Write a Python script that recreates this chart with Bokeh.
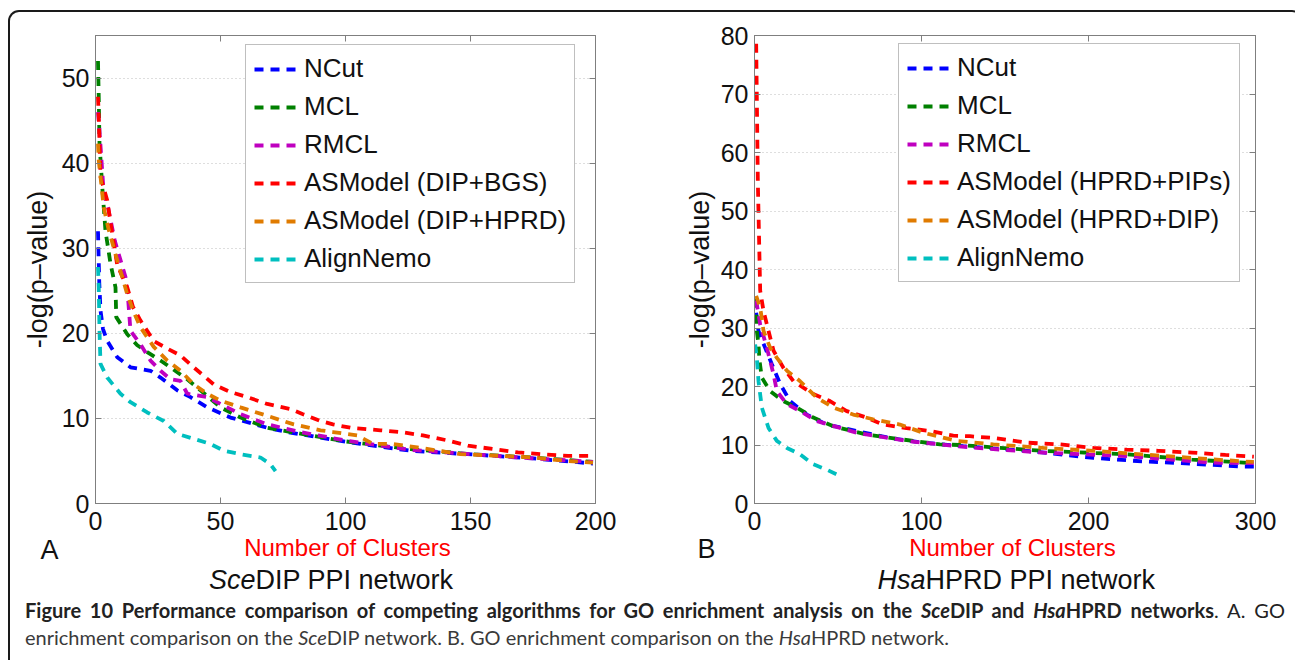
from bokeh.plotting import figure
from bokeh.models import Legend, LegendItem, LinearAxis, Div, FixedTicker, Range1d
from bokeh.core.properties import value
from bokeh.layouts import column, row
from bokeh.embed import file_html
from bokeh.resources import INLINE

# ---------------- Panel A: SceDIP PPI network ----------------
a_ncut_x = [1, 1.5, 2, 3, 4.7, 8.7, 14, 22, 26, 32.7, 38, 44.7, 54, 59, 68.7, 76.7, 88.7, 106, 126, 148.7, 175, 199]
a_ncut_y = [32, 26, 22.7, 20.5, 19.1, 17.2, 16, 15.6, 14.8, 13.3, 12.5, 11.3, 10.1, 9.7, 8.9, 8.4, 7.8, 7.0, 6.2, 5.8, 5.3, 4.7]
a_mcl_x = [1, 1.3, 1.6, 2.7, 4, 6, 8, 8.3, 12.7, 16.7, 20.7, 27, 36.7, 42, 50, 58, 68.7, 82, 100, 126, 150, 175, 199]
a_mcl_y = [52, 47.7, 42.3, 37.2, 32, 28.2, 25.4, 21.9, 19.9, 18.6, 17.8, 16.6, 14.6, 13.3, 11.3, 10.1, 8.9, 8.2, 7.3, 6.4, 5.8, 5.4, 4.9]
a_rmcl_x = [1, 1.5, 3.3, 5, 7.7, 12, 13, 14, 18, 22, 26, 30, 34, 36.7, 44.7, 50, 58, 68.7, 82, 100, 126, 150, 175, 199]
a_rmcl_y = [46, 44.2, 36.4, 34.8, 30.9, 26.6, 24.2, 20.3, 18.7, 16.8, 15.6, 14.6, 14.4, 12.9, 12.5, 11.7, 10.5, 9.3, 8.4, 7.4, 6.3, 5.8, 5.3, 4.9]
a_bgs_x = [1, 1.3, 2, 4.7, 6.7, 8.7, 12.7, 15, 18, 23.3, 28.7, 34, 39.3, 47.3, 54, 60.7, 68.7, 78, 83, 90, 95, 102, 114, 122, 131, 141, 149, 159, 169, 178, 189, 199]
a_bgs_y = [47.8, 45.4, 38.4, 35.6, 31.7, 28.0, 25.4, 23.1, 21.5, 19.1, 18.2, 17.4, 16.0, 14.0, 13.1, 12.5, 11.7, 11.1, 10.5, 9.7, 9.3, 8.9, 8.6, 8.4, 8.0, 7.4, 6.8, 6.4, 6.0, 5.8, 5.6, 5.6]
a_hprd_x = [1, 1.3, 2, 3.3, 5, 8, 10.7, 12.7, 15, 18, 23.3, 28.7, 34, 39.3, 44.7, 50, 58, 68.7, 79.3, 90, 95, 104.7, 111, 119, 128.7, 146, 162, 175, 188.7, 199]
a_hprd_y = [42.3, 40.3, 38.4, 34.8, 32.5, 29.3, 26.6, 24.6, 22.7, 20.7, 18.4, 16.8, 15.6, 14.0, 12.9, 12.1, 11.3, 10.3, 9.3, 8.6, 8.4, 8.0, 7.0, 7.0, 6.6, 5.8, 5.6, 5.4, 5.0, 4.8]
a_nemo_x = [1, 1.3, 1.6, 2, 4.7, 10, 14, 20.7, 27.3, 32.7, 39.3, 46, 51.3, 58, 66, 70, 72]
a_nemo_y = [27.8, 25.4, 20.3, 16.4, 14.8, 12.9, 11.9, 10.7, 9.7, 8.2, 7.6, 7.0, 6.2, 5.8, 5.4, 4.6, 3.8]

# ---------------- Panel B: HsaHPRD PPI network ----------------
b_ncut_x = [1, 2.4, 6.4, 10.4, 15.4, 21.3, 31.3, 43.2, 61.2, 81, 101, 125, 163, 183, 203, 232, 262, 292, 299]
b_ncut_y = [32.6, 29.5, 26.6, 23.8, 20.4, 17.5, 15.2, 13.5, 12.4, 11.2, 10.4, 9.8, 9.0, 8.4, 7.8, 7.2, 6.8, 6.3, 6.3]
b_mcl_x = [1, 1.4, 2.4, 3, 4.4, 9.4, 17.3, 25.3, 35.2, 47.2, 67, 87, 111, 123, 173, 223, 262, 299]
b_mcl_y = [35.0, 29.5, 27.2, 24.4, 21.5, 19.2, 17.5, 16.4, 14.7, 13.2, 11.8, 11.0, 10.1, 10.0, 9.0, 8.4, 7.5, 6.9]
b_rmcl_x = [1, 3.4, 7.4, 11.4, 13.4, 19.4, 27.3, 37.3, 61, 91, 121, 133, 173, 223, 272, 299]
b_rmcl_y = [34.7, 30.6, 26.6, 22.1, 19.2, 17.0, 15.8, 14.1, 12.1, 10.7, 9.8, 9.5, 8.7, 8.1, 7.0, 6.9]
b_pips_x = [1, 2, 3.4, 5.4, 8.4, 11.4, 17.3, 23.3, 35.2, 45.2, 55.2, 67, 77, 91, 105, 119, 129, 143, 163, 183, 203, 223, 242, 262, 282, 299]
b_pips_y = [78.6, 55, 36.4, 32.9, 29.5, 26.1, 23.2, 20.9, 18.7, 17.5, 15.8, 14.7, 13.5, 12.9, 12.4, 11.6, 11.5, 11.2, 10.4, 10.1, 9.5, 9.2, 9.0, 8.7, 8.3, 8.0]
b_dip_x = [1, 3.4, 5.4, 9.4, 13.4, 19.4, 27.3, 37.3, 47.2, 59.1, 71, 87, 101, 121, 143, 173, 203, 232, 262, 292, 299]
b_dip_y = [35.5, 33.5, 29.5, 26.6, 24.9, 22.7, 20.9, 18.1, 16.4, 15.2, 14.4, 13.5, 12.1, 10.7, 10.1, 9.5, 9.0, 8.4, 7.8, 7.2, 7.1]
b_nemo_x = [0.4, 1.4, 2.4, 4.4, 8.4, 13.4, 19.4, 27.3, 35.2, 43.2, 51.2]
b_nemo_y = [27.2, 24.9, 20.9, 16.4, 12.9, 10.7, 9.5, 8.4, 6.7, 5.8, 4.7]

names_a = ["NCut", "MCL", "RMCL", "ASModel (DIP+BGS)", "ASModel (DIP+HPRD)", "AlignNemo"]
names_b = ["NCut", "MCL", "RMCL", "ASModel (HPRD+PIPs)", "ASModel (HPRD+DIP)", "AlignNemo"]
colors = ["#0000ff", "#008000", "#bf00bf", "#ff0000", "#e07b00", "#00bfbf"]

a_xticks = [0, 50, 100, 150, 200]
a_yticks = [0, 10, 20, 30, 40, 50]
b_xticks = [0, 100, 200, 300]
b_yticks = [0, 10, 20, 30, 40, 50, 60, 70, 80]

x_title = "Number of Clusters"
y_title = "-log(p\u2013value)"
net_a = ("Sce", "DIP PPI network")
net_b = ("Hsa", "HPRD PPI network")
caption_1 = ('<b>Figure 10 Performance comparison of competing algorithms for GO enrichment analysis on the '
             '<i>Sce</i>DIP and <i>Hsa</i>HPRD networks</b>. A. GO')
caption_2 = ('enrichment comparison on the <i>Sce</i>DIP network. B. GO enrichment comparison on the '
             '<i>Hsa</i>HPRD network.')

FONT = "Liberation Sans"
GRAY = "#7f7f7f"
INK = "#111111"
FOOT_H = 69


def make_panel(width, bl, br, xmax, ymax, xticks, yticks, xs, ys, names, legend_loc, ylab_standoff):
    p = figure(width=width, height=529, x_range=Range1d(0, xmax), y_range=Range1d(0, ymax),
               output_backend="svg", toolbar_location=None,
               min_border_left=bl, min_border_right=br, min_border_top=23, min_border_bottom=38)
    p.outline_line_color = GRAY
    p.background_fill_color = "white"
    p.border_fill_color = None
    p.xgrid.visible = False
    p.ygrid.grid_line_color = "#bdbdbd"
    p.ygrid.grid_line_dash = "1 3"
    p.ygrid.ticker = FixedTicker(ticks=yticks)

    for ax, ticks in ((p.xaxis[0], xticks), (p.yaxis[0], yticks)):
        ax.ticker = FixedTicker(ticks=ticks)
        ax.major_tick_in = 6
        ax.major_tick_out = 0
        ax.minor_tick_in = 0
        ax.minor_tick_out = 0
        ax.axis_line_color = GRAY
        ax.major_tick_line_color = GRAY
        ax.major_label_text_font = FONT
        ax.major_label_text_font_size = "25px"
        ax.major_label_text_color = INK
        ax.axis_label_text_font = FONT
        ax.axis_label_text_font_style = "normal"
    p.xaxis.major_label_standoff = 8
    p.yaxis.major_label_standoff = 6
    p.yaxis.axis_label = y_title
    p.yaxis.axis_label_text_color = INK
    p.yaxis.axis_label_text_font_size = "27px"
    p.yaxis.axis_label_standoff = ylab_standoff

    top = LinearAxis(ticker=FixedTicker(ticks=xticks), major_label_overrides={t: "" for t in xticks},
                     major_tick_in=6, major_tick_out=0, minor_tick_in=0, minor_tick_out=0,
                     axis_line_color=GRAY, major_tick_line_color=GRAY, major_label_standoff=0)
    right = LinearAxis(ticker=FixedTicker(ticks=yticks), major_label_overrides={t: "" for t in yticks},
                       major_tick_in=6, major_tick_out=0, minor_tick_in=0, minor_tick_out=0,
                       axis_line_color=GRAY, major_tick_line_color=GRAY, major_label_standoff=0)
    p.add_layout(top, "above")
    p.add_layout(right, "right")

    items = []
    for x, y, name, c in zip(xs, ys, names, colors):
        r = p.line(x, y, line_color=c, line_width=3.8, line_dash="9 7")
        items.append(LegendItem(label=name, renderers=[r]))
    leg = Legend(items=items, location=legend_loc, label_text_font=FONT, label_text_font_size="26px",
                 label_text_color=INK, glyph_width=45, glyph_height=30, label_height=30,
                 spacing=7, padding=8, margin=0, label_standoff=5,
                 border_line_color=GRAY, border_line_width=1, background_fill_alpha=1.0)
    p.add_layout(leg)
    return p


def make_footer(width, letter, letter_xy, title_xy, split_x, net):
    # transparent strip under a panel: panel letter, x-axis title and network name
    f = figure(width=width, height=FOOT_H, x_range=Range1d(0, width), y_range=Range1d(0, FOOT_H),
               output_backend="svg", toolbar_location=None,
               min_border_left=0, min_border_right=0, min_border_top=0, min_border_bottom=0,
               x_axis_type=None, y_axis_type=None)
    f.outline_line_color = None
    f.background_fill_color = None
    f.border_fill_color = None
    f.grid.visible = False
    f.text(x=[letter_xy[0]], y=[letter_xy[1]], text=[letter], text_align="center", text_baseline="middle",
           text_font=value(FONT), text_font_size="27px", text_color=INK)
    f.text(x=[title_xy[0]], y=[title_xy[1]], text=[x_title], text_align="center", text_baseline="middle",
           text_font=value(FONT), text_font_size="24px", text_color="#ff0000")
    f.text(x=[split_x], y=[17], text=[net[0]], text_align="right", text_baseline="middle",
           text_font=value(FONT), text_font_size="27px", text_font_style="italic", text_color=INK)
    f.text(x=[split_x], y=[17], text=[net[1]], text_align="left", text_baseline="middle",
           text_font=value(FONT), text_font_size="27px", text_color=INK)
    return f


pA = make_panel(630, 85, 45, 200, 55, a_xticks, a_yticks,
                [a_ncut_x, a_mcl_x, a_rmcl_x, a_bgs_x, a_hprd_x, a_nemo_x],
                [a_ncut_y, a_mcl_y, a_rmcl_y, a_bgs_y, a_hprd_y, a_nemo_y],
                names_a, (150, 220), 6)
pB = make_panel(651, 114, 36, 300, 80, b_xticks, b_yticks,
                [b_ncut_x, b_mcl_x, b_rmcl_x, b_pips_x, b_dip_x, b_nemo_x],
                [b_ncut_y, b_mcl_y, b_rmcl_y, b_pips_y, b_dip_y, b_nemo_y],
                names_b, (144, 221), 3)

fA = make_footer(630, "A", (39, 47), (337, 49), 245, net_a)
fB = make_footer(651, "B", (66, 48), (372, 49), 285, net_b)
feet = row(fA, fB, margin=(-14, 0, 0, 0))

cap = Div(text=('<div style="font-family:Lato, sans-serif;font-size:20px;line-height:27px;color:#3a3a3a;'
                'width:1260px;margin-left:10px;margin-top:-4px;">'
                '<div style="text-align:justify;text-align-last:justify;color:#222;">' + caption_1 + '</div>'
                '<div style="text-align:left;">' + caption_2 + '</div></div>'),
          width=1281, height=64)

layout = column(row(pA, pB), feet, cap,
                styles={"margin-left": "8px", "margin-top": "10px",
                        "border-top": "2px solid #1a1a1a", "border-left": "2px solid #1a1a1a",
                        "border-right": "2px solid #1a1a1a",
                        "border-top-left-radius": "11px", "border-top-right-radius": "11px"})

open("out.html", "w").write(file_html(layout, INLINE))
